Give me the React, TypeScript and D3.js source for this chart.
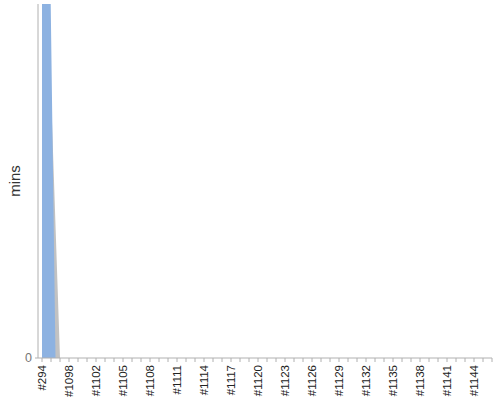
import React from 'react';
import * as d3 from 'd3';

// build labels along the x axis (only every 3rd one is printed)
const BUILDS = [
  '#294', '#1096', '#1097', '#1098', '#1099', '#1101', '#1102', '#1103', '#1104', '#1105',
  '#1106', '#1107', '#1108', '#1109', '#1110', '#1111', '#1112', '#1113', '#1114', '#1115',
  '#1116', '#1117', '#1118', '#1119', '#1120', '#1121', '#1122', '#1123', '#1124', '#1125',
  '#1126', '#1127', '#1128', '#1129', '#1130', '#1131', '#1132', '#1133', '#1134', '#1135',
  '#1136', '#1137', '#1138', '#1139', '#1140', '#1141', '#1142', '#1143', '#1144', '#1145',
  '#1146',
];

// build durations (mins) — #294 runs far off the top of the chart
const SUCCESS_MINS = [188, 0];
const OTHER_MINS = [188, 75, 0];

const Y_MAX = 100;
const Y_TICKS = [0];

const W = 500;
const H = 400;
const PLOT = { left: 38, right: 492, top: 4, bottom: 358 };

const App: React.FC = () => {
  const x = d3
    .scalePoint<string>()
    .domain(BUILDS)
    .range([PLOT.left + 4, PLOT.right])
    .padding(0);
  const step = x.step();

  const y = d3.scaleLinear().domain([0, Y_MAX]).range([PLOT.bottom, PLOT.top]);

  const val = (arr: number[], i: number) => (i < arr.length ? arr[i] : 0);

  // blue: level start at first category, then values at category middles
  const bluePts: [number, number][] = [[x(BUILDS[0])!, val(SUCCESS_MINS, 0)]];
  BUILDS.forEach((b, i) => bluePts.push([x(b)! + step / 2, val(SUCCESS_MINS, i)]));

  // gray: values at the category ticks
  const grayPts: [number, number][] = BUILDS.map((b, i) => [x(b)!, val(OTHER_MINS, i)]);

  const area = d3
    .area<[number, number]>()
    .x((d) => d[0])
    .y0(y(0))
    .y1((d) => y(d[1]))
    .curve(d3.curveLinear);

  return (
    <svg
      width={W}
      height={H}
      style={{ position: 'absolute', left: 0, top: 0, background: '#fff' }}
      fontFamily="'Liberation Sans', Arial, sans-serif"
    >
      <defs>
        <clipPath id="plot-clip">
          <rect
            x={PLOT.left}
            y={PLOT.top}
            width={PLOT.right - PLOT.left}
            height={PLOT.bottom - PLOT.top}
          />
        </clipPath>
      </defs>

      <g clipPath="url(#plot-clip)">
        <path d={area(grayPts) || ''} fill="#c2c2c2" />
        <path d={area(bluePts) || ''} fill="#8db2e1" />
      </g>

      {/* y axis */}
      <line x1={PLOT.left} x2={PLOT.left} y1={PLOT.top} y2={PLOT.bottom} stroke="#b0b0b0" />
      {Y_TICKS.map((t) => (
        <g key={t}>
          <line x1={PLOT.left - 3} x2={PLOT.left} y1={y(t)} y2={y(t)} stroke="#b0b0b0" />
          <text x={PLOT.left - 6} y={y(t)} dy="0.35em" textAnchor="end" fontSize={12.5} fill="#777">
            {t}
          </text>
        </g>
      ))}
      <text
        transform={`translate(20,${(PLOT.top + PLOT.bottom) / 2}) rotate(-90)`}
        textAnchor="middle"
        fontSize={15}
        fill="#333"
      >
        mins
      </text>

      {/* x axis */}
      <line x1={PLOT.left} x2={PLOT.right} y1={PLOT.bottom} y2={PLOT.bottom} stroke="#b0b0b0" />
      {BUILDS.map((b, i) => (
        <g key={b} transform={`translate(${x(b)},${PLOT.bottom})`}>
          <line y1={0} y2={4} stroke="#b0b0b0" />
          {i % 3 === 0 && (
            <text
              transform="translate(0,7) rotate(-90)"
              dy="0.35em"
              textAnchor="end"
              fontSize={11.5}
              fill="#222"
            >
              {b}
            </text>
          )}
        </g>
      ))}
    </svg>
  );
};

export default App;
